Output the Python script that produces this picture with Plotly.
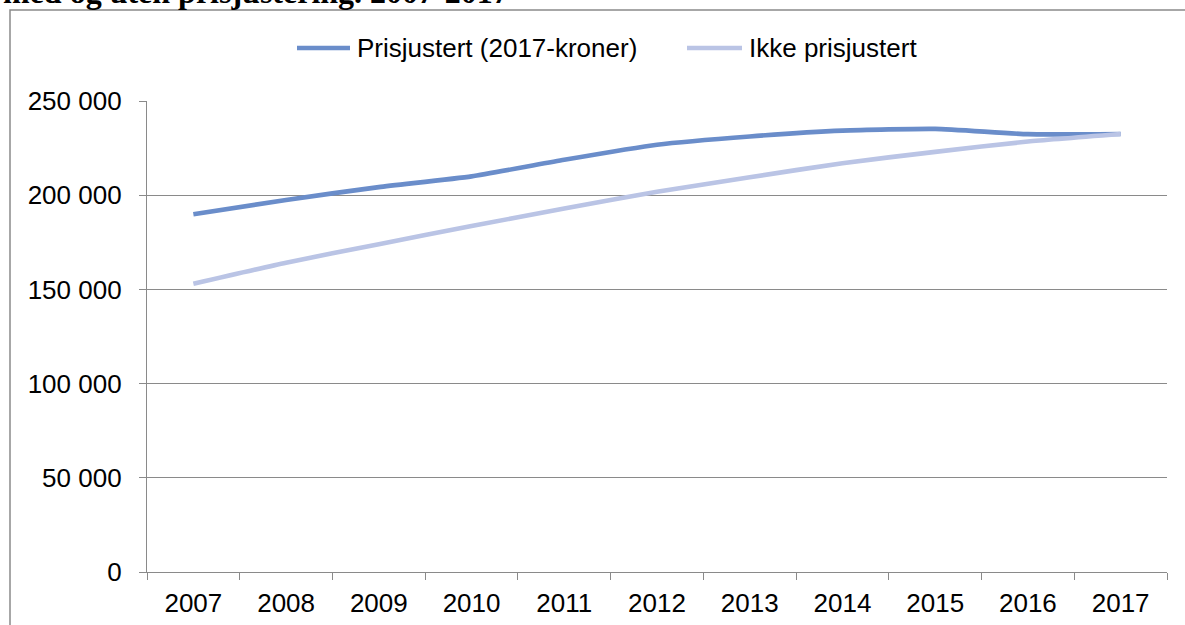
import plotly.graph_objects as go

years = ["2007", "2008", "2009", "2010", "2011", "2012", "2013", "2014", "2015", "2016", "2017"]
prisjustert = [189900, 197500, 204300, 210000, 218800, 226800, 231200, 234300, 235200, 232400, 232500]
ikke_prisjustert = [153000, 164200, 174000, 183600, 193000, 201800, 209500, 217000, 223000, 228500, 232500]
series_names = ["Prisjustert (2017-kroner)", "Ikke prisjustert"]
colors = ["#6A8DCA", "#BAC4E5"]
title_text = "med og uten prisjustering. 2007-2017"

W, H = 1185, 625
L, R, T, B = 147, 18, 101, 53
PW, PH = W - L - R, H - T - B

def px(X):
    return (X - L) / PW

def py(Y):
    return (H - B - Y) / PH

fig = go.Figure()
for name, vals, col in zip(series_names, [prisjustert, ikke_prisjustert], colors):
    fig.add_trace(go.Scatter(
        x=years, y=vals, name=name, mode="lines",
        line=dict(color=col, width=4.6, shape="spline", smoothing=0.5),
        showlegend=False,
    ))

axis_font = dict(family="Liberation Sans, Arial, sans-serif", size=26, color="#000000")
legend_font = dict(family="Liberation Sans, Arial, sans-serif", size=26, color="#000000")
grid_col = "#8A8A8A"

fig.update_layout(
    width=W, height=H,
    margin=dict(l=L, r=R, t=T, b=B),
    paper_bgcolor="white", plot_bgcolor="white",
    separators=", ",
    font=axis_font,
    xaxis=dict(
        type="category", tickson="boundaries", ticks="outside", ticklen=7,
        range=[-0.5, len(years) - 0.5],
        tickcolor=grid_col, tickwidth=1.3,
        showline=True, linecolor=grid_col, linewidth=1.3,
        showgrid=False, zeroline=False, tickfont=axis_font,
        ticklabelstandoff=8, automargin=False,
    ),
    yaxis=dict(
        range=[0, 250000], tickvals=[0, 50000, 100000, 150000, 200000, 250000],
        tickformat=",d", ticks="outside", ticklen=7, tickcolor=grid_col, tickwidth=1.3,
        showline=True, linecolor=grid_col, linewidth=1.3,
        showgrid=True, gridcolor=grid_col, gridwidth=1.3, zeroline=False,
        tickfont=axis_font, ticklabelstandoff=12, automargin=False,
    ),
)

# outer chart border (extends beyond right and bottom edges)
fig.add_shape(type="rect", xref="paper", yref="paper",
              x0=px(10), x1=px(1200), y0=py(700), y1=py(10),
              line=dict(color="#8A8A8A", width=1.5), fillcolor="rgba(0,0,0,0)", layer="below")

# title (cut off at top)
fig.add_annotation(xref="paper", yref="paper", x=px(1), y=py(-8), xanchor="left", yanchor="middle",
                   text="<b>" + title_text + "</b>", showarrow=False,
                   font=dict(family="Liberation Serif, Times New Roman, serif", size=32, color="#000000"))

# legend drawn manually
legend_items = [(297, 350, 355), (687, 742, 747)]
for (x0, x1, xt), name, col in zip(legend_items, series_names, colors):
    fig.add_shape(type="line", xref="paper", yref="paper", x0=px(x0), x1=px(x1), y0=py(48), y1=py(48),
                  line=dict(color=col, width=4.6))
    fig.add_annotation(xref="paper", yref="paper", x=px(xt), y=py(48), xanchor="left", yanchor="middle",
                       text=name, showarrow=False, font=legend_font)

fig.write_html("out.html", config={"displayModeBar": False},
               post_script="document.body.style.margin='0';document.body.style.overflow='hidden';")
